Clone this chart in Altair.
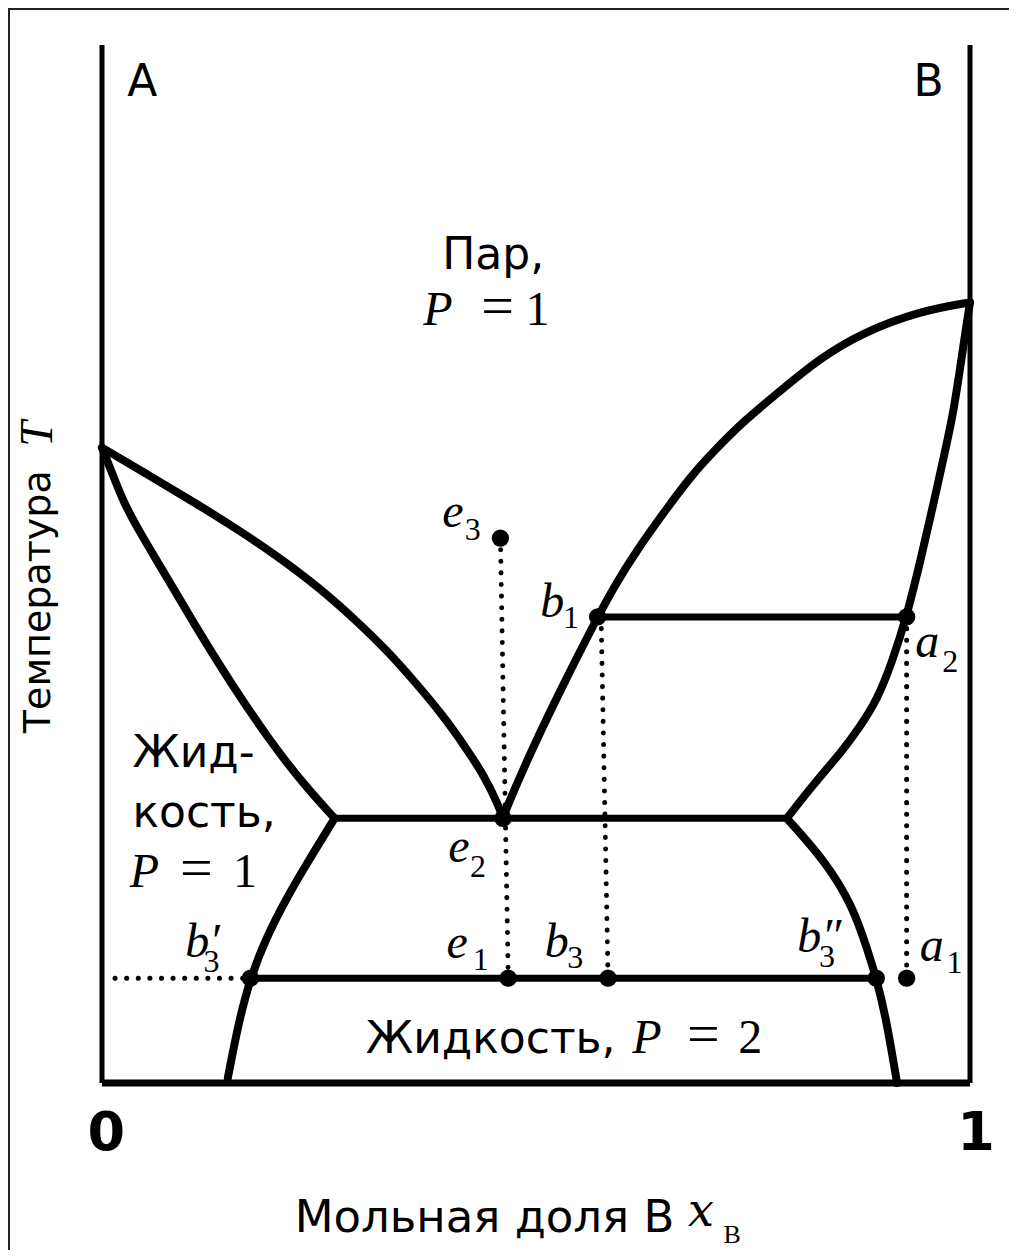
import altair as alt
import pandas as pd

# ---------------- phase boundaries (x_B, T in arbitrary units 0..100) ----------------
vap_A_x = [0.0, 0.055, 0.107, 0.157, 0.203, 0.249, 0.291, 0.328, 0.361, 0.393, 0.420, 0.441, 0.457, 0.462]
vap_A_T = [61.2, 58.5, 55.9, 53.3, 50.7, 47.8, 44.7, 41.7, 38.6, 35.4, 32.2, 29.5, 26.7, 25.5]
liq_A_x = [0.0, 0.012, 0.025, 0.044, 0.067, 0.107, 0.150, 0.194, 0.232, 0.268]
liq_A_T = [61.2, 58.7, 55.9, 53.0, 49.8, 44.1, 38.3, 32.9, 28.8, 25.5]
vap_B_x = [1.0, 0.944, 0.876, 0.825, 0.779, 0.741, 0.704, 0.677, 0.652, 0.615, 0.590, 0.571,
           0.532, 0.495, 0.465, 0.462]
vap_B_T = [75.2, 74.4, 72.3, 69.7, 66.5, 63.9, 60.8, 58.3, 55.5, 51.2, 47.8, 44.9,
           38.5, 32.1, 26.3, 25.5]
liq_B_x = [1.0, 0.995, 0.988, 0.980, 0.970, 0.959, 0.944, 0.927, 0.910, 0.893, 0.873, 0.854,
           0.820, 0.789]
liq_B_T = [75.2, 72.5, 68.5, 64.2, 60.4, 56.2, 50.7, 44.9, 40.5, 36.9, 34.3, 32.1, 28.8, 25.5]
low_A_x = [0.268, 0.240, 0.213, 0.188, 0.171, 0.158, 0.145]
low_A_T = [25.5, 21.7, 17.9, 13.8, 10.1, 6.1, 0.5]
low_B_x = [0.789, 0.835, 0.865, 0.882, 0.892, 0.903, 0.916]
low_B_T = [25.5, 21.2, 17.0, 12.8, 10.1, 6.4, 0.0]

# frame of the diagram (pure components A and B, base line)
frame_x1 = [0.0, 1.0, 0.0]
frame_x2 = [0.0, 1.0, 1.0]
frame_T1 = [0.0, 0.0, 0.0]
frame_T2 = [100.0, 100.0, 0.0]

# tie lines
tie_x1 = [0.268, 0.571, 0.171]
tie_x2 = [0.789, 0.927, 0.892]
tie_T = [25.5, 44.9, 10.1]

# points e3, e2, e1, b1, a2, b3, b3', b3'', a1
pt_x = [0.459, 0.462, 0.468, 0.571, 0.927, 0.583, 0.171, 0.892, 0.927]
pt_T = [52.5, 25.5, 10.1, 44.9, 44.9, 10.1, 10.1, 10.1, 10.1]

# dotted guide lines
dot_x1 = [0.459, 0.575, 0.927, 0.015]
dot_T1 = [52.5, 44.9, 44.9, 10.1]
dot_x2 = [0.468, 0.583, 0.927, 0.171]
dot_T2 = [10.1, 10.1, 10.1, 10.1]

# ---------------- annotation texts ----------------
sans_t = ["A", "B", "Пар,", "Жид-", "кость,", "Жидкость,"]
sans_x = [0.029, 0.935, 0.392, 0.035, 0.035, 0.304]
sans_T = [95.1, 95.1, 78.4, 30.4, 24.7, 2.9]

xtitle_t = ["Мольная доля B"]
xtitle_x = [0.222]
xtitle_T = [-14.4]

ital_t = ["P", "P", "P", "e", "b", "a", "e", "e", "b", "b′", "b″", "a"]
ital_x = [0.370, 0.032, 0.611, 0.392, 0.505, 0.937, 0.399, 0.397, 0.510, 0.096, 0.801, 0.942]
ital_T = [73.0, 18.9, 2.9, 53.6, 44.9, 41.0, 21.3, 12.0, 12.1, 12.1, 12.6, 11.8]

eqs_t = ["=", "=", "="]
eqs_x = [0.437, 0.090, 0.674]
eqs_T = [73.0, 18.9, 2.9]

num_t = ["1", "1", "2"]
num_x = [0.488, 0.151, 0.733]
num_T = [73.0, 18.9, 2.9]

sub_t = ["3", "1", "2", "2", "1", "3", "3", "3", "1"]
sub_x = [0.418, 0.531, 0.968, 0.424, 0.427, 0.536, 0.117, 0.826, 0.973]
sub_T = [52.3, 43.8, 39.6, 19.8, 10.9, 11.1, 10.7, 11.2, 10.6]

xvar_t = ["x"]
xvar_x = [0.675]
xvar_T = [-13.8]
xsub_t = ["B"]
xsub_x = [0.716]
xsub_T = [-15.4]

tick_t = ["0", "1"]
tick_x = [0.005, 1.007]
tick_T = [-6.5, -6.5]

ytitle_t = ["Температура"]
ytitle_x = [-0.060]
ytitle_T = [33.7]
ytitleT_t = ["T"]
ytitleT_x = [-0.058]
ytitleT_T = [61.3]

# ---------------- build ----------------
xs = alt.Scale(domain=[0, 1], nice=False, zero=False)
ys = alt.Scale(domain=[0, 100], nice=False, zero=False)

curves = []
for name, cx, cT in [("vapA", vap_A_x, vap_A_T), ("liqA", liq_A_x, liq_A_T),
                     ("vapB", vap_B_x, vap_B_T), ("liqB", liq_B_x, liq_B_T),
                     ("lowA", low_A_x, low_A_T), ("lowB", low_B_x, low_B_T)]:
    for i, (a, b) in enumerate(zip(cx, cT)):
        curves.append({"c": name, "i": i, "x": a, "T": b})
curves = pd.DataFrame(curves)


def X(f="x"):
    return alt.X(f"{f}:Q", scale=xs, axis=None)


def Y(f="T"):
    return alt.Y(f"{f}:Q", scale=ys, axis=None)


curve_layer = alt.Chart(curves).mark_line(
    color="black", strokeWidth=8, interpolate="basis", strokeCap="round", strokeJoin="round"
).encode(x=X(), y=Y(), detail="c:N", order="i:Q")

frame_df = pd.DataFrame({"x": frame_x1, "x2": frame_x2, "T": frame_T1, "T2": frame_T2,
                         "w": [5, 5, 7]})
frame_layer = alt.Chart(frame_df).mark_rule(color="black", strokeCap="butt").encode(
    x=X(), x2="x2:Q", y=Y(), y2="T2:Q", strokeWidth=alt.StrokeWidth("w:Q", scale=None))

tie_df = pd.DataFrame({"x": tie_x1, "x2": tie_x2, "T": tie_T})
tie_layer = alt.Chart(tie_df).mark_rule(color="black", strokeWidth=7).encode(
    x=X(), x2="x2:Q", y=Y())

dot_df = pd.DataFrame({"x": dot_x1, "x2": dot_x2, "T": dot_T1, "T2": dot_T2})
dotted_layer = alt.Chart(dot_df).mark_rule(
    color="black", strokeWidth=5, strokeDash=[0.1, 11.5], strokeCap="round"
).encode(x=X(), x2="x2:Q", y=Y(), y2="T2:Q")

pt_df = pd.DataFrame({"x": pt_x, "T": pt_T})
pt_layer = alt.Chart(pt_df).mark_circle(color="black", opacity=1, size=300).encode(x=X(), y=Y())


def text_layer(t, x, T, font, size, style="normal", weight="normal", align="left", angle=0):
    df = pd.DataFrame({"t": t, "x": x, "T": T})
    return alt.Chart(df).mark_text(
        font=font, fontSize=size, fontStyle=style, fontWeight=weight, align=align,
        baseline="alphabetic", angle=angle, color="black"
    ).encode(x=X(), y=Y(), text="t:N")


SANS = "DejaVu Sans"
SERIF = "Liberation Serif"

texts = [
    text_layer(sans_t, sans_x, sans_T, SANS, 44),
    text_layer(xtitle_t, xtitle_x, xtitle_T, SANS, 45),
    text_layer(ital_t, ital_x, ital_T, SERIF, 48, style="italic"),
    text_layer(eqs_t, eqs_x, eqs_T, SERIF, 58),
    text_layer(num_t, num_x, num_T, SERIF, 48),
    text_layer(sub_t, sub_x, sub_T, SERIF, 32),
    text_layer(xvar_t, xvar_x, xvar_T, "DejaVu Serif", 46, style="italic"),
    text_layer(xsub_t, xsub_x, xsub_T, SERIF, 26),
    text_layer(tick_t, tick_x, tick_T, SANS, 54, weight="bold", align="center"),
    text_layer(ytitle_t, ytitle_x, ytitle_T, SANS, 38, angle=270),
    text_layer(ytitleT_t, ytitleT_x, ytitleT_T, SERIF, 46, style="italic", angle=270),
]

border_top = alt.Chart(pd.DataFrame({"k": [0]})).mark_rule(color="#222", strokeWidth=2).encode(
    x=alt.value(-94), x2=alt.value(907), y=alt.value(-36))
border_left = alt.Chart(pd.DataFrame({"k": [0]})).mark_rule(color="#222", strokeWidth=2).encode(
    x=alt.value(-93), y=alt.value(-37), y2=alt.value(1205))

chart = alt.layer(
    border_top, border_left, frame_layer, dotted_layer, curve_layer, tie_layer, pt_layer, *texts
).properties(
    width=868, height=1038,
    autosize=alt.AutoSizeParams(type="none"),
    padding={"left": 94, "top": 37, "right": 39, "bottom": 167},
    background="white",
).configure_view(stroke=None)

chart.save("out.html", embed_options={"renderer": "svg", "actions": False})
